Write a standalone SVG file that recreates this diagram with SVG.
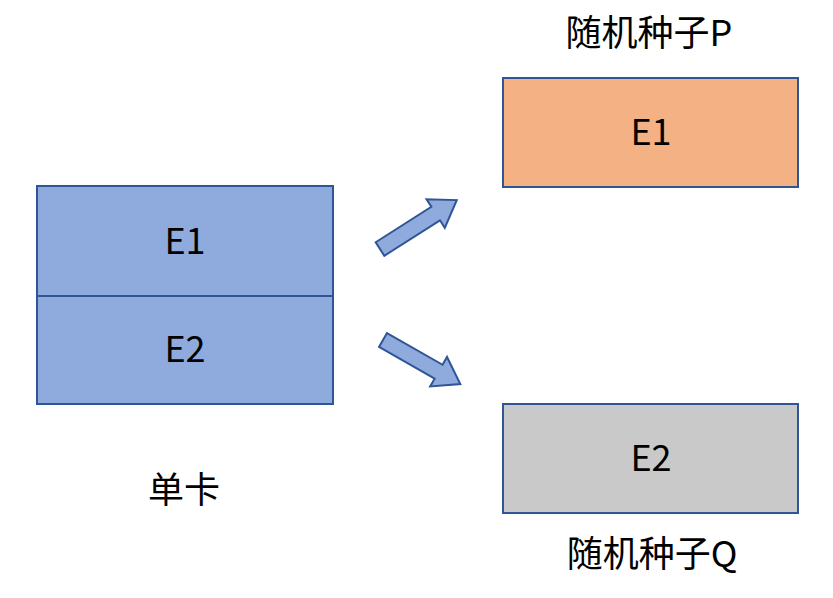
<svg xmlns="http://www.w3.org/2000/svg" width="833" height="598" viewBox="0 0 833 598">
<style>
.box{stroke:#2F5597;stroke-width:2}
.blue{fill:#8FAADC}
.orange{fill:#F4B183}
.gray{fill:#C9C9C9}
.t{font-family:"Noto Sans CJK SC","Noto Sans",sans-serif;font-size:36px;fill:#000;text-anchor:middle}
.arr{fill:#8FAADC;stroke:#2F5597;stroke-width:2;stroke-linejoin:miter}
</style>
<rect width="833" height="598" fill="#fff"/>
<g id="single">
<rect class="box blue" x="37" y="186" width="296" height="110"/>
<rect class="box blue" x="37" y="296" width="296" height="108"/>
<text class="t" x="185" y="254">E1</text>
<text class="t" x="185" y="362">E2</text>
<text class="t" x="184" y="503">单卡</text>
</g>
<g id="seedP">
<rect class="box orange" x="503" y="78" width="295" height="109"/>
<text class="t" x="651" y="145">E1</text>
<text class="t" x="649" y="46">随机种子P</text>
</g>
<g id="seedQ">
<rect class="box gray" x="503" y="404" width="295" height="109"/>
<text class="t" x="651" y="471">E2</text>
<text class="t" x="652" y="567">随机种子Q</text>
</g>
<g id="connectors">
<polygon class="arr" transform="translate(380,249) rotate(-32.5)" points="0,-8 66,-8 66,-17 91,0 66,17 66,8 0,8"/>
<polygon class="arr" transform="translate(383,340) rotate(29.7)" points="0,-8 64,-8 64,-17 89,0 64,17 64,8 0,8"/>
</g>
</svg>
